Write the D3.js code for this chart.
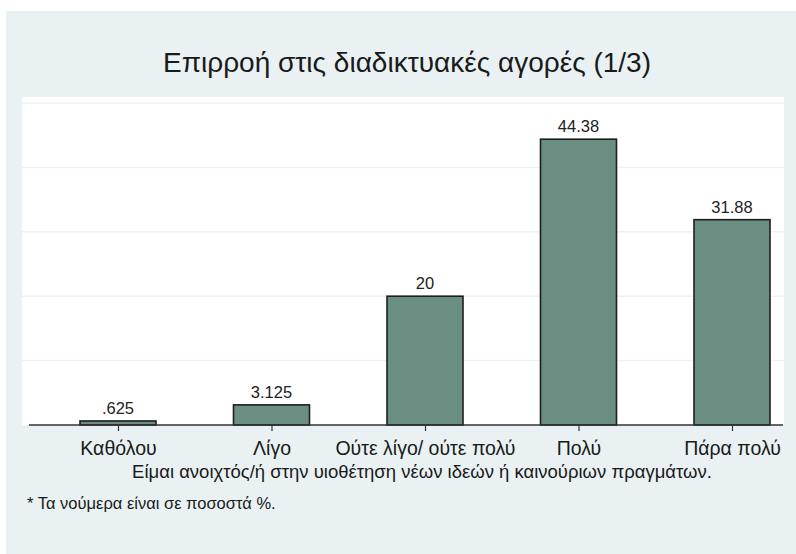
<!DOCTYPE html>
<html><head><meta charset="utf-8">
<script src="https://cdn.jsdelivr.net/npm/d3@7"></script>
<style>body{margin:0;background:#fff}svg{display:block}text{font-family:"Liberation Sans",Arial,sans-serif}</style>
</head><body>
<svg id="c" width="796" height="554"></svg>
<script>
const categories = ["Καθόλου","Λίγο","Ούτε λίγο/ ούτε πολύ","Πολύ","Πάρα πολύ"];
const values = [0.625, 3.125, 20, 44.38, 31.88];
const valueLabels = [".625","3.125","20","44.38","31.88"];
const yTicks = [0,10,20,30,40,50];
const title = "Επιρροή στις διαδικτυακές αγορές (1/3)";
const xTitle = "Είμαι ανοιχτός/ή στην υιοθέτηση νέων ιδεών ή καινούριων πραγμάτων.";
const note = "* Τα νούμερα είναι σε ποσοστά %.";

const svg = d3.select("#c");
svg.append("rect").attr("x",6).attr("y",11).attr("width",790).attr("height",543).attr("fill","#e9f1f3");
svg.append("rect").attr("x",22).attr("y",97).attr("width",762).attr("height",328).attr("fill","#ffffff");

const x = d3.scalePoint().domain(categories).range([118,732]);
const y = d3.scaleLinear().domain([0,50]).range([425,103]);
const bw = 76;

svg.append("g").selectAll("line").data(yTicks.slice(1)).join("line")
  .attr("x1",22).attr("x2",784).attr("y1",d=>y(d)).attr("y2",d=>y(d))
  .attr("stroke","#eef2f4").attr("stroke-width",1.5);

svg.append("text").attr("x",407).attr("y",72).attr("text-anchor","middle")
  .attr("font-size",28).attr("fill","#1a1a1a").text(title);

svg.append("g").selectAll("rect").data(values).join("rect")
  .attr("x",(d,i)=>x(categories[i])-bw/2).attr("width",bw)
  .attr("y",d=>y(d)).attr("height",d=>y(0)-y(d))
  .attr("fill","#6a8f82").attr("stroke","#1e1e1e").attr("stroke-width",1.6);

svg.append("g").selectAll("text").data(values).join("text")
  .attr("x",(d,i)=>x(categories[i])).attr("y",d=>y(d)-7)
  .attr("text-anchor","middle").attr("font-size",16.5).attr("fill","#222")
  .text((d,i)=>valueLabels[i]);

const ax = svg.append("g").attr("transform","translate(0,"+y(0)+")")
  .call(d3.axisBottom(x).tickSize(6).tickPadding(9));
ax.select(".domain").remove();
ax.selectAll(".tick line").attr("stroke","#333").attr("stroke-width",1.2);
ax.selectAll(".tick text").attr("font-size",19.5).attr("fill","#1a1a1a").attr("dy","0.75em")
  .attr("font-family","'Liberation Sans',Arial,sans-serif");
svg.append("line").attr("x1",29).attr("x2",783).attr("y1",y(0)).attr("y2",y(0))
  .attr("stroke","#333").attr("stroke-width",1.4);

svg.append("text").attr("x",422).attr("y",478).attr("text-anchor","middle")
  .attr("font-size",18.5).attr("fill","#1a1a1a").text(xTitle);
svg.append("text").attr("x",27).attr("y",509)
  .attr("font-size",16.5).attr("fill","#1a1a1a").text(note);
</script>
</body></html>
